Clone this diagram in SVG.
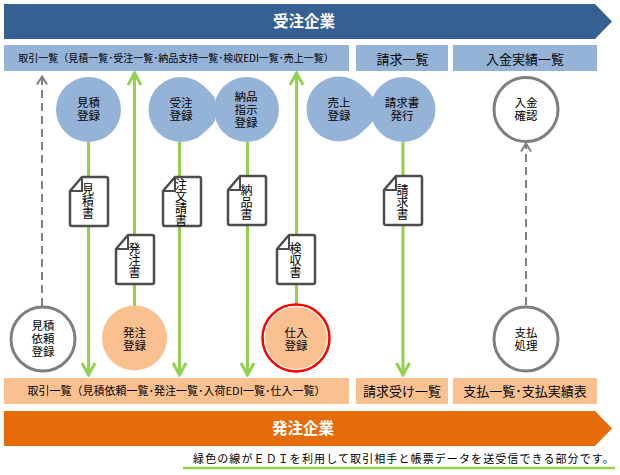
<svg xmlns="http://www.w3.org/2000/svg" width="620" height="475" viewBox="0 0 620 475">
<style>
text{font-family:"Noto Sans CJK JP","Noto Sans CJK SC",sans-serif;fill:#000;text-anchor:middle}
.band{font-size:15.500px;font-weight:700;fill:#fff}
.list{font-size:13px}
.c{font-size:11.500px}
.blue{fill:#95B3D7}
.org{fill:#FAC090}
.ring{fill:#fff;stroke:#7F7F7F;stroke-width:3}
.edi{fill:none;stroke:#92D050;stroke-width:3}
.dash{fill:none;stroke:#7F7F7F;stroke-width:2;stroke-dasharray:8 5}
.doc{fill:#fff;stroke:#4D4D4D;stroke-width:2.500;stroke-linejoin:round}
.fold{fill:none;stroke:#4D4D4D;stroke-width:2}
.v{font-size:12px;writing-mode:vertical-rl;text-orientation:upright}
</style>
<defs>
<marker id="greenHead" markerUnits="userSpaceOnUse" markerWidth="16" markerHeight="16" refX="14" refY="8" orient="auto-start-reverse" viewBox="0 0 16 16"><path d="M2,1.500 L14,8 L2,14.500" fill="none" stroke="#92D050" stroke-width="3"/></marker>
<marker id="grayHead" markerUnits="userSpaceOnUse" markerWidth="12" markerHeight="12" refX="9.500" refY="6" orient="auto-start-reverse" viewBox="0 0 12 12"><path d="M2,1 L10,6 L2,11" fill="none" stroke="#7F7F7F" stroke-width="2"/></marker>
<path id="docShape" d="M13,1 H37 Q39,1 39,3 V48 Q39,50 37,50 H3 Q1,50 1,48 V15 Z"/>
</defs>

<g id="band-top"><path d="M4,4 H595 L612,21.500 L595,39 H4 Z" fill="#366092"/><text class="band" x="304" y="27">受注企業</text></g>
<g id="list-top-1"><rect class="blue" x="4" y="45" width="345" height="26"/><text x="176" y="62" style="font-size:10px">取引一覧（見積一覧･受注一覧･納品支持一覧･検収EDI一覧･売上一覧）</text></g>
<g id="list-top-2"><rect class="blue" x="356" y="45" width="92" height="26"/><text class="list" x="402.500" y="64">請求一覧</text></g>
<g id="list-top-3"><rect class="blue" x="453" y="45" width="144" height="26"/><text class="list" x="525" y="64">入金実績一覧</text></g>

<g id="connectors">
<path class="edi" d="M88.500,142 V375" marker-end="url(#greenHead)"/>
<path class="edi" d="M134.500,306 V73" marker-end="url(#greenHead)"/>
<path class="edi" d="M179.500,142 V375" marker-end="url(#greenHead)"/>
<path class="edi" d="M247.500,142 V375" marker-end="url(#greenHead)"/>
<path class="edi" d="M296.500,306 V73" marker-end="url(#greenHead)"/>
<path class="edi" d="M403,142 V375" marker-end="url(#greenHead)"/>
<path class="dash" d="M42,306 V77" marker-end="url(#grayHead)"/>
<path class="dash" d="M526,305 V144" marker-end="url(#grayHead)"/>
</g>

<g id="n-mitsumori"><circle class="blue" cx="88.500" cy="109.500" r="32.500"/><text class="c" x="88.500" y="107">見積</text><text class="c" x="88.500" y="120">登録</text></g>
<g id="n-juchu"><circle class="blue" cx="181" cy="109.500" r="32.500"/><path class="blue" d="M195,80 Q207,87 215,98 V121 Q207,132 195,139 Z"/><text class="c" x="181" y="107">受注</text><text class="c" x="181" y="120">登録</text></g>
<g id="n-nohin"><circle class="blue" cx="246.500" cy="109.500" r="32.500"/><text class="c" x="246" y="101">納品</text><text class="c" x="246" y="114">指示</text><text class="c" x="246" y="127">登録</text></g>
<g id="n-uriage"><circle class="blue" cx="339" cy="109" r="32.500"/><path class="blue" d="M353,80 Q365,87 373,97 V121 Q365,131 353,138 Z"/><text class="c" x="339" y="107">売上</text><text class="c" x="339" y="120">登録</text></g>
<g id="n-seikyu"><circle class="blue" cx="403" cy="109.500" r="32.500"/><text class="c" x="402" y="107">請求書</text><text class="c" x="402" y="120">発行</text></g>
<g id="n-nyukin"><circle class="ring" cx="526" cy="109.500" r="32"/><text class="c" x="526" y="107">入金</text><text class="c" x="526" y="120">確認</text></g>
<g id="n-irai"><circle class="ring" cx="43" cy="339" r="32"/><text class="c" x="43" y="330">見積</text><text class="c" x="43" y="343">依頼</text><text class="c" x="43" y="356">登録</text></g>
<g id="n-hatchu"><circle class="org" cx="134.500" cy="338" r="32.500"/><text class="c" x="134.500" y="337">発注</text><text class="c" x="134.500" y="350">登録</text></g>
<g id="n-shiire"><circle cx="296" cy="338" r="33.500" fill="#fff" stroke="#FF0000" stroke-width="2.500"/><circle class="org" cx="296" cy="338" r="31"/><text class="c" x="296" y="337">仕入</text><text class="c" x="296" y="350">登録</text></g>
<g id="n-shiharai"><circle class="ring" cx="526" cy="339" r="32"/><text class="c" x="526" y="337">支払</text><text class="c" x="526" y="350">処理</text></g>

<g id="doc-mitsumori"><use href="#docShape" class="doc" x="69" y="176"/><path class="fold" d="M82,177 V191 H70"/><text class="v" x="88" y="201.500">見積書</text></g>
<g id="doc-hatchu"><use href="#docShape" class="doc" x="115" y="234"/><path class="fold" d="M128,235 V249 H116"/><text class="v" x="134.500" y="260">発注書</text></g>
<g id="doc-chumon"><use href="#docShape" class="doc" x="162" y="176"/><path class="fold" d="M175,177 V191 H163"/><text class="v" x="181" y="202">注文請書</text></g>
<g id="doc-nohin"><use href="#docShape" class="doc" x="227" y="175"/><path class="fold" d="M240,176 V190 H228"/><text class="v" x="246.500" y="202">納品書</text></g>
<g id="doc-kenshu"><use href="#docShape" class="doc" x="276" y="234"/><path class="fold" d="M289,235 V249 H277"/><text class="v" x="295.500" y="260">検収書</text></g>
<g id="doc-seikyu"><use href="#docShape" class="doc" x="383" y="175"/><path class="fold" d="M396,176 V190 H384"/><text class="v" x="402.500" y="202">請求書</text></g>

<g id="list-bot-1"><rect class="org" x="4" y="378" width="345" height="26"/><text x="176.500" y="395" style="font-size:11px">取引一覧（見積依頼一覧･発注一覧･入荷EDI一覧･仕入一覧）</text></g>
<g id="list-bot-2"><rect class="org" x="356" y="378" width="92" height="26"/><text class="list" x="402" y="396">請求受け一覧</text></g>
<g id="list-bot-3"><rect class="org" x="453" y="378" width="144" height="26"/><text class="list" x="525" y="396">支払一覧･支払実績表</text></g>
<g id="band-bottom"><path d="M4,411 H595 L612,428.500 L595,446 H4 Z" fill="#E46C0A"/><text class="band" x="303" y="434">発注企業</text></g>
<g id="legend"><text x="404" y="463" style="font-size:11px;letter-spacing:1.100px">緑色の線がＥＤＩを利用して取引相手と帳票データを送受信できる部分です。</text><path d="M183,468 H615" fill="none" stroke="#92D050" stroke-width="2.500"/></g>
</svg>
